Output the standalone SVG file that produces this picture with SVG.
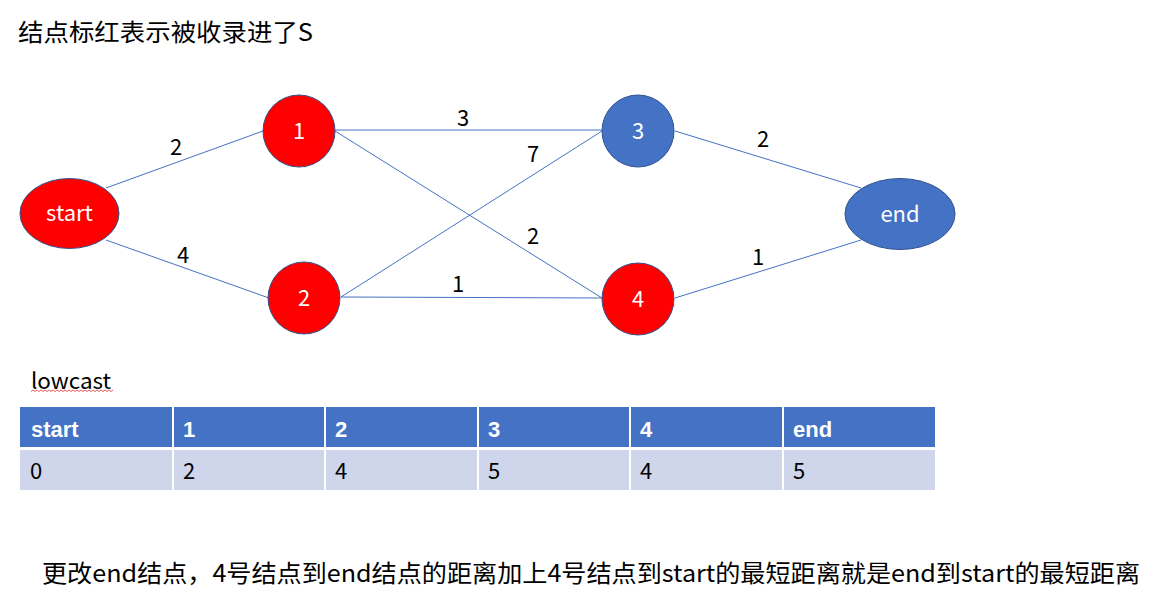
<svg xmlns="http://www.w3.org/2000/svg" width="1173" height="596" viewBox="0 0 1173 596">
<style>
text{font-family:"Noto Sans CJK SC","Liberation Sans",sans-serif;}
.nd{stroke:#2F528F;stroke-width:1}
.red{fill:#FF0000}
.blue{fill:#4472C4}
.nt{fill:#fff;font-size:22px;text-anchor:middle}
.el{fill:#000;font-size:22px;text-anchor:middle}
.e{stroke:#4472C4;stroke-width:1;fill:none}
.hd{fill:#4472C4}
.rw{fill:#CFD5EA}
.ht{fill:#fff;font-size:22px;font-weight:bold;font-family:"Liberation Sans","Noto Sans",sans-serif}
.rt{fill:#000;font-size:22px}
</style>
<rect width="1173" height="596" fill="#fff"/>
<text x="18" y="41" font-size="24" textLength="295" lengthAdjust="spacingAndGlyphs" fill="#000">结点标红表示被收录进了S</text>
<g id="connectors">
<line class="e" x1="106" y1="188" x2="263" y2="131"/>
<line class="e" x1="106" y1="240" x2="269" y2="298"/>
<line class="e" x1="335" y1="130" x2="602" y2="130"/>
<line class="e" x1="335" y1="131" x2="602" y2="298"/>
<line class="e" x1="341" y1="297" x2="602" y2="131"/>
<line class="e" x1="341" y1="297" x2="602" y2="298"/>
<line class="e" x1="675" y1="131" x2="861" y2="188"/>
<line class="e" x1="675" y1="298" x2="861" y2="240"/>
<text class="el" x="176" y="155">2</text>
<text class="el" x="183" y="263">4</text>
<text class="el" x="463" y="126">3</text>
<text class="el" x="533" y="244">2</text>
<text class="el" x="533" y="162">7</text>
<text class="el" x="458" y="292">1</text>
<text class="el" x="763" y="147">2</text>
<text class="el" x="758" y="265">1</text>
</g>
<g id="node-start"><ellipse class="nd red" cx="69.5" cy="213.5" rx="49.5" ry="35"/><text class="nt" x="69.5" y="221">start</text></g>
<g id="node-1"><circle class="nd red" cx="299" cy="131" r="36"/><text class="nt" x="299" y="139">1</text></g>
<g id="node-2"><circle class="nd red" cx="304" cy="298" r="36"/><text class="nt" x="304" y="306">2</text></g>
<g id="node-3"><circle class="nd blue" cx="638" cy="131" r="36"/><text class="nt" x="638" y="139">3</text></g>
<g id="node-4"><circle class="nd red" cx="638" cy="299" r="36"/><text class="nt" x="638" y="307">4</text></g>
<g id="node-end"><ellipse class="nd blue" cx="900" cy="214" rx="55" ry="35.5"/><text class="nt" x="900" y="222">end</text></g>
<g id="lowcast-label">
<text x="31" y="389" font-size="22" textLength="80" lengthAdjust="spacingAndGlyphs" fill="#000">lowcast</text>
<path d="M31 391.5 l2 -1.5 l2 1.5 l2 -1.5 l2 1.5 l2 -1.5 l2 1.5 l2 -1.5 l2 1.5 l2 -1.5 l2 1.5 l2 -1.5 l2 1.5 l2 -1.5 l2 1.5 l2 -1.5 l2 1.5 l2 -1.5 l2 1.5 l2 -1.5 l2 1.5 l2 -1.5 l2 1.5 l2 -1.5 l2 1.5 l2 -1.5 l2 1.5 l2 -1.5 l2 1.5 l2 -1.5 l2 1.5 l2 -1.5 l2 1.5 l2 -1.5 l2 1.5 l2 -1.5 l2 1.5 l2 -1.5 l2 1.5 l2 -1.5 l2 1.5 l2 -1.5" stroke="#E03030" stroke-width="0.8" fill="none"/>
</g>
<g id="table">
<rect class="hd" x="20" y="407" width="152" height="40"/>
<rect class="hd" x="174" y="407" width="150" height="40"/>
<rect class="hd" x="326" y="407" width="151" height="40"/>
<rect class="hd" x="479" y="407" width="150" height="40"/>
<rect class="hd" x="631" y="407" width="151" height="40"/>
<rect class="hd" x="784" y="407" width="151" height="40"/>
<rect class="rw" x="20" y="450" width="152" height="40"/>
<rect class="rw" x="174" y="450" width="150" height="40"/>
<rect class="rw" x="326" y="450" width="151" height="40"/>
<rect class="rw" x="479" y="450" width="150" height="40"/>
<rect class="rw" x="631" y="450" width="151" height="40"/>
<rect class="rw" x="784" y="450" width="151" height="40"/>
<text class="ht" x="31" y="437">start</text>
<text class="ht" x="183" y="437">1</text>
<text class="ht" x="335" y="437">2</text>
<text class="ht" x="488" y="437">3</text>
<text class="ht" x="640" y="437">4</text>
<text class="ht" x="793" y="437">end</text>
<text class="rt" x="30" y="479">0</text>
<text class="rt" x="183" y="479">2</text>
<text class="rt" x="335" y="479">4</text>
<text class="rt" x="488" y="479">5</text>
<text class="rt" x="640" y="479">4</text>
<text class="rt" x="793" y="479">5</text>
</g>
<text x="42" y="582" font-size="24" textLength="1098" lengthAdjust="spacingAndGlyphs" fill="#000">更改end结点，4号结点到end结点的距离加上4号结点到start的最短距离就是end到start的最短距离</text>
</svg>
